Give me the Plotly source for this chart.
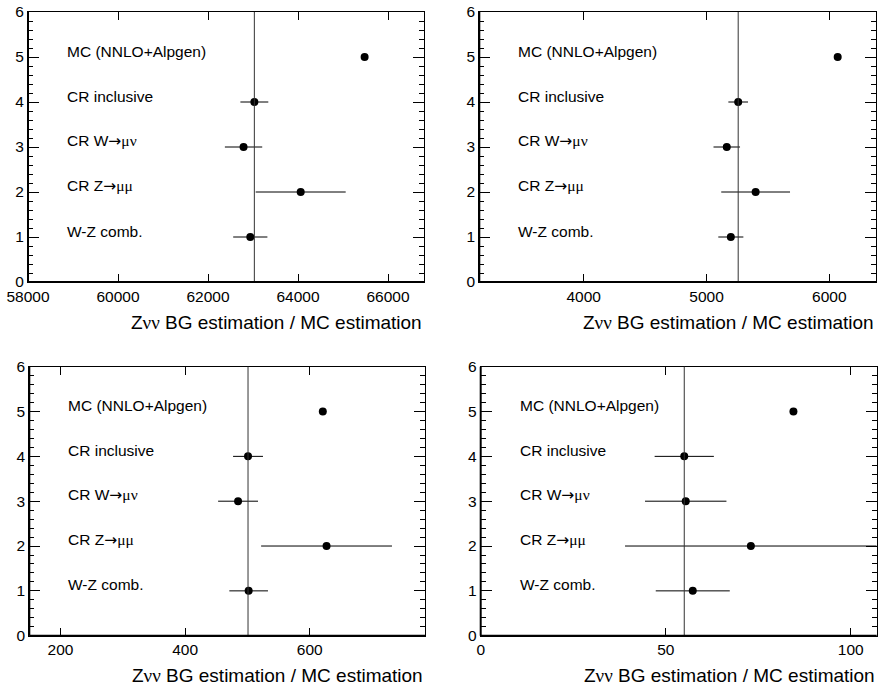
import plotly.graph_objects as go

# Row positions and their labels (bottom to top)
rows = [1, 2, 3, 4, 5]
ARROW = '<span style="font-family:DejaVu Sans">→</span>'
GREEK = '<span style="font-family:Liberation Serif">{}</span>'
row_labels = [
    "W-Z comb.",
    "CR Z" + ARROW + GREEK.format("μμ"),
    "CR W" + ARROW + GREEK.format("μν"),
    "CR inclusive",
    "MC (NNLO+Alpgen)",
]

# Background estimates per signal region (order matches rows); MC has no error
sr1_values = [62940, 64060, 62790, 63030, 65480]
sr1_errors = [380, 1000, 415, 310, 0]
sr2_values = [5198, 5400, 5165, 5258, 6068]
sr2_errors = [102, 280, 108, 80, 0]
sr3_values = [502, 627, 485, 501, 621]
sr3_errors = [31, 105, 32, 24, 0]
sr4_values = [57.3, 73, 55.4, 55, 84.5]
sr4_errors = [10, 34, 11, 8, 0]

x_ranges = [[58000, 66800], [3150, 6380], [150, 785], [0, 107]]
x_dticks = [2000, 1000, 200, 50]

panels = [
    (sr1_values, sr1_errors),
    (sr2_values, sr2_errors),
    (sr3_values, sr3_errors),
    (sr4_values, sr4_errors),
]

W, H = 878, 686
# plot-area boxes in pixels: (left, right, top, bottom)
boxes = [(28, 424, 12, 282), (479.3, 876, 12, 282),
         (29.3, 425, 366.7, 635.7), (480.7, 876.7, 366.7, 635.7)]

FONT = "Liberation Sans, Arial, sans-serif"
title_text = "Z" + GREEK.format("νν") + " BG estimation / MC estimation"

fig = go.Figure()
layout = dict(
    width=W, height=H,
    margin=dict(l=0, r=0, t=0, b=0, autoexpand=False),
    paper_bgcolor="white", plot_bgcolor="white",
    showlegend=False,
    font=dict(family=FONT, size=15, color="black"),
)
annotations = []
shapes = []

for i, ((vals, errs), box) in enumerate(zip(panels, boxes)):
    n = i + 1
    xa = "x" if n == 1 else f"x{n}"
    ya = "y" if n == 1 else f"y{n}"
    xkey = "xaxis" if n == 1 else f"xaxis{n}"
    ykey = "yaxis" if n == 1 else f"yaxis{n}"
    l, r, t, b = box

    fig.add_trace(go.Scatter(
        x=vals, y=rows, mode="markers", xaxis=xa, yaxis=ya,
        marker=dict(color="black", size=8),
        error_x=dict(type="data", array=errs, visible=True, width=0,
                     thickness=1, color="black"),
        cliponaxis=True,
    ))

    layout[xkey] = dict(
        domain=[l / W, r / W], anchor=ya, range=x_ranges[i],
        dtick=x_dticks[i], tick0=0, tickformat="d", automargin=False,
        ticks="inside", ticklen=8, tickwidth=1, tickcolor="black",
        showline=True, linecolor="black", linewidth=1, mirror="ticks",
        showgrid=False, zeroline=False,
        tickfont=dict(size=15.5, family=FONT, color="black"),
    )
    layout[ykey] = dict(
        domain=[1 - b / H, 1 - t / H], anchor=xa, range=[0, 6],
        dtick=1, tick0=0, automargin=False,
        ticks="inside", ticklen=11, tickwidth=1, tickcolor="black",
        minor=dict(dtick=0.2, ticks="inside", ticklen=5, tickcolor="black"),
        showline=True, linecolor="black", linewidth=1, mirror="ticks",
        showgrid=False, zeroline=False,
        tickfont=dict(size=15.5, family=FONT, color="black"),
    )

    # reference line at the CR inclusive estimate
    ref = vals[rows.index(4)]
    shapes.append(dict(type="line", xref=xa, yref=f"{ya} domain",
                       x0=ref, x1=ref, y0=0, y1=1,
                       line=dict(color="#333333", width=1)))
    # heavier left and bottom frame lines
    shapes.append(dict(type="line", xref=f"{xa} domain", yref=f"{ya} domain",
                       x0=0, x1=1, y0=0, y1=0, line=dict(color="black", width=2)))
    shapes.append(dict(type="line", xref=f"{xa} domain", yref=f"{ya} domain",
                       x0=0, x1=0, y0=0, y1=1, line=dict(color="black", width=2)))

    for yv, lab in zip(rows, row_labels):
        annotations.append(dict(
            text=lab, xref=f"{xa} domain", yref=ya, x=0.093, y=yv,
            xanchor="left", yanchor="middle", yshift=6, showarrow=False,
            font=dict(size=15.5, family=FONT, color="black"),
        ))
    annotations.append(dict(
        text=title_text, xref=f"{xa} domain", yref=f"{ya} domain",
        x=1, y=0, xanchor="right", yanchor="middle", yshift=-40,
        showarrow=False, font=dict(size=19, family=FONT, color="black"),
    ))

layout["annotations"] = annotations
layout["shapes"] = shapes
fig.update_layout(**layout)
fig.write_html("out.html")
